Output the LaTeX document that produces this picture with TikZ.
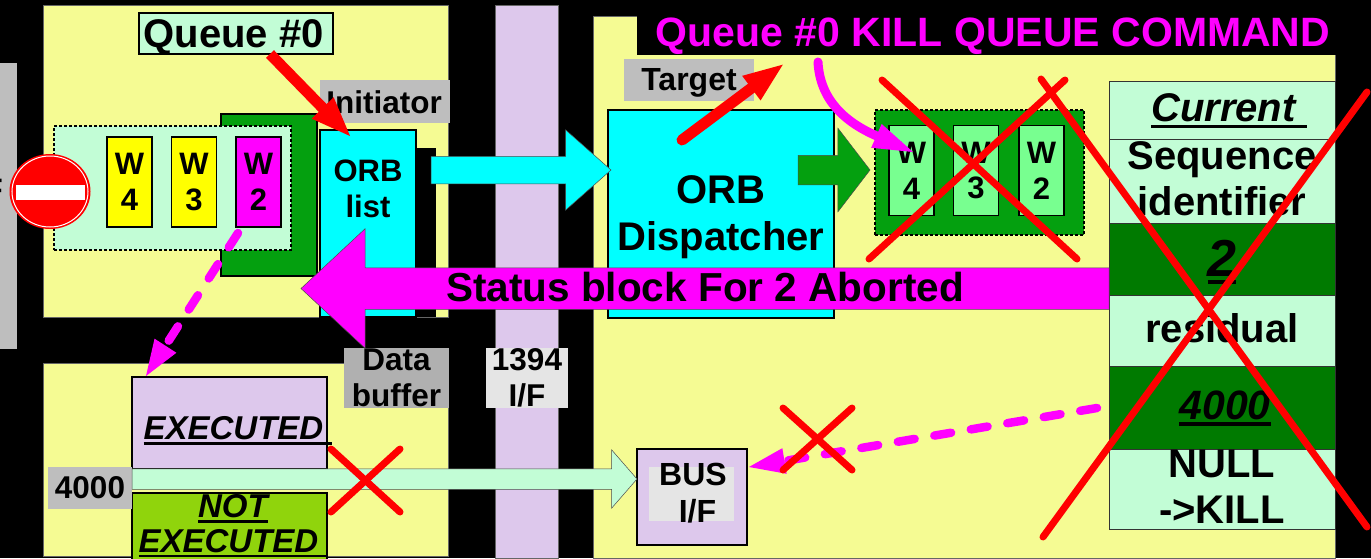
\documentclass[tikz,border=0pt]{standalone}
\usepackage{fontspec}
\setmainfont{Liberation Sans}
\usetikzlibrary{arrows.meta,shapes.arrows,shapes.geometric}
\definecolor{kqyellow}{HTML}{F5FB93}
\definecolor{kqmint}{HTML}{C2FDD6}
\definecolor{kqgrey}{HTML}{BEBEBE}
\definecolor{kqlilac}{HTML}{DDC8EC}
\definecolor{kqgreen}{HTML}{04A00F}
\definecolor{kqdark}{HTML}{007A00}
\definecolor{kqlime}{HTML}{78FF90}
\definecolor{kqolive}{HTML}{90D40C}
\definecolor{kqpink}{HTML}{FF00FF}
\definecolor{kqcyan}{HTML}{00FFFF}
\definecolor{kqword}{HTML}{FFFF00}
\newcommand{\thickul}[1]{\setbox0=\hbox{#1}\copy0\llap{\raisebox{-.16em}{\rule{\wd0}{.085em}}}}
\newcommand{\fs}[1]{\fontsize{#1}{1.16\dimexpr #1pt\relax}\selectfont\bfseries}

\begin{document}
\begin{tikzpicture}[
    x=1pt, y=-1pt,
    panel/.style={fill=kqyellow, draw=black!60, line width=0.5pt, inner sep=0pt, outer sep=0pt},
    box/.style={draw=black, line width=1.2pt, inner sep=0pt, outer sep=0pt, align=center},
    tag/.style={fill=kqgrey, inner sep=0pt, outer sep=0pt, align=center},
    word/.style={box, minimum width=45pt, minimum height=90pt, font=\fs{31}},
    row/.style={draw=black!80, line width=0.8pt, fill=kqmint, minimum width=226pt,
                inner sep=0pt, outer sep=0pt},
    rowtext/.style={inner sep=0pt, align=center, font=\fs{40}},
    block/.style={single arrow, draw=black!70, line width=0.5pt, inner xsep=0pt,
                  outer sep=0pt, anchor=tail},
    redline/.style={draw=red, line width=7pt, line cap=round},
    redarrow/.style={draw=red, line width=11pt, -{Triangle[length=42pt,width=27pt]}},
    pinkdash/.style={draw=kqpink, line width=8.5pt, line cap=round, dash pattern=on 17pt off 20pt,
                     -{Triangle[length=36pt,width=26pt,fill=kqpink,line width=0pt]}}
  ]
    \useasboundingbox (0,0) rectangle (1371,558);
    \fill[black] (0,0) rectangle (1371,558);

    % panels
    \node[tag, minimum width=17pt, minimum height=286pt] (strip) at (8.5,206) {};
    \node[inner sep=0pt, anchor=east, font=\fs{31}] (cutoff) at (3,190) {F};
    \node[panel, minimum width=405pt, minimum height=312pt] (initpanel) at (245.5,161) {};
    \node[panel, minimum width=405pt, minimum height=193pt] (bufpanel) at (245.5,459.5) {};
    \node[fill=kqlilac, draw=black!60, line width=0.5pt, inner sep=0pt, minimum width=63pt, minimum height=553pt] (bus) at (526.5,281.5) {};
    \node[panel, minimum width=742pt, minimum height=542pt] (targpanel) at (964,287) {};
    \node[fill=black, inner sep=0pt, minimum width=734pt, minimum height=39pt] (titlebar) at (1004,35.5) {};
    \node[inner sep=0pt, text=kqpink, font=\fs{41}] (title) at (993,36) {Queue \#0 KILL QUEUE COMMAND};

    % initiator side
    \node[box, fill=kqmint, minimum width=194pt, minimum height=41pt] (queue) at (236,33.5) {};
    \node[inner sep=0pt, font=\fs{40}] (queuetext) at (233.5,37) {Queue \#0};
    \node[tag, minimum width=130pt, minimum height=43pt] (initiator) at (385,101.5) {};
    \node[inner sep=0pt, font=\fs{31.5}] (initiatortext) at (384,102.5) {Initiator};
    \node[box, fill=kqgreen, minimum width=96pt, minimum height=162pt] (back) at (269,195) {};
    \node[box, densely dashed, fill=kqmint, minimum width=237pt, minimum height=124pt] (queued) at (172.5,188) {};
    \node[word, fill=kqword] (wfour) at (129.5,182) {W\\4};
    \node[word, fill=kqword] (wthree) at (194,182) {W\\3};
    \node[word, fill=kqpink] (wtwo) at (258.5,182) {W\\2};
    \node[fill=black, inner sep=0pt, minimum width=20pt, minimum height=169pt] (shadow) at (426,232.5) {};
    \node[box, fill=kqcyan, minimum width=96pt, minimum height=187pt] (orblist) at (368,223.5) {};
    \node[inner sep=0pt, font=\fs{31}, align=center] (orbtext) at (368,189) {ORB\\list};
    \node[ellipse, fill=red, inner sep=0pt, minimum width=81pt, minimum height=75pt] (noentry) at (50,191.5) {};
    \node[ellipse, draw=white, line width=1pt, inner sep=0pt, minimum width=76pt, minimum height=71pt] (noentryring) at (50,191.5) {};
    \node[fill=white, inner sep=0pt, minimum width=69pt, minimum height=15pt] (noentrybar) at (50.5,192.5) {};

    % data buffer side
    \node[box, fill=kqlilac, minimum width=195pt, minimum height=92pt] (executed) at (229.5,423) {};
    \node[inner sep=0pt, font=\fs{33}\itshape] (executedtext) at (238,431) {\thickul{EXECUTED\ }};
    \node[box, fill=kqolive, minimum width=195pt, minimum height=70pt] (notexec) at (229.5,528) {};
    \node[inner sep=0pt, font=\fs{33}\itshape, align=center] (notexectext) at (233,526) {\thickul{NOT}\\[-4pt]\thickul{EXECUTED\ }};
    \node[tag, minimum width=84pt, minimum height=42pt, font=\fs{31.5}] (addr) at (90,488) {4000};
    \node[tag, fill=black!31, minimum width=105pt, minimum height=60pt, font=\fs{31.5}] (databuf) at (396.5,378) {Data\\buffer};
    \node[tag, fill=black!10, minimum width=82pt, minimum height=60pt, font=\fs{31.5}] (iface) at (527,378) {1394\\I/F};

    % target side
    \node[tag, minimum width=130pt, minimum height=42pt] (target) at (689,80) {};
    \node[inner sep=0pt, font=\fs{32}] (targettext) at (689,83) {Target};
    \node[box, fill=kqcyan, minimum width=226pt, minimum height=208pt] (dispatcher) at (721,214) {};
    \node[inner sep=0pt, font=\fs{40}, align=center] (disptext) at (721,217) {ORB\\Dispatcher};
    \node[box, densely dashed, fill=kqgreen, minimum width=209pt, minimum height=125pt] (dropped) at (979.5,172.5) {};
    \node[word, fill=kqlime] (dfour) at (911.5,170.5) {W\\4};
    \node[word, fill=kqlime] (dthree) at (976,170.5) {W\\3};
    \node[word, fill=kqlime] (dtwo) at (1041.5,170.5) {W\\2};
    \node[row, minimum height=58pt] (rcurrent) at (1222,110) {};
    \node[rowtext, font=\fs{40}\itshape] (currenttext) at (1229,111) {\thickul{Current\ }};
    \node[row, minimum height=84pt] (rseq) at (1222,181) {};
    \node[rowtext] (seqtext) at (1222,179) {Sequence\\identifier};
    \node[row, fill=kqdark, minimum height=72pt] (rtwo) at (1222,259) {};
    \node[rowtext, font=\fs{52}\itshape] (twotext) at (1222,262) {\thickul{2}};
    \node[row, minimum height=71pt] (rresid) at (1222,330.5) {};
    \node[rowtext] (residtext) at (1222,328.5) {residual};
    \node[row, fill=kqdark, minimum height=83pt] (raddr) at (1222,407.5) {};
    \node[rowtext, font=\fs{41}\itshape] (addrtext) at (1225,408) {\thickul{4000}};
    \node[row, minimum height=80pt] (rnull) at (1222,489) {};
    \node[rowtext] (nulltext) at (1222,487) {NULL\\->KILL};
    \node[box, fill=kqlilac, minimum width=110pt, minimum height=96pt] (busif) at (692,497) {};
    \node[fill=black!10, inner sep=0pt, minimum width=85pt, minimum height=54pt] (busifback) at (691.5,494) {};
    \node[inner sep=0pt, font=\fs{32}, align=center] (busiftext) at (693,493) {BUS\\\ I/F};

    % block arrows
    \node[block, fill=kqcyan, inner ysep=13.5pt, minimum height=180pt, single arrow head extend=26.5pt, single arrow tip angle=83] (tolink) at (431,170) {};
    \node[block, fill=kqgreen, inner ysep=14.5pt, minimum height=72pt, single arrow head extend=27pt, single arrow tip angle=105] (todrop) at (798,170) {};
    \node[block, fill=kqmint, inner ysep=10pt, minimum height=505pt, single arrow head extend=19pt, single arrow tip angle=98] (tobus) at (132,479) {};
    \node[block, fill=kqpink, shape border rotate=180, inner ysep=20.5pt, minimum height=808pt, single arrow head extend=39pt, single arrow tip angle=86] (status) at (1109,288.5) {};
    \node[inner sep=0pt, font=\fs{40.5}] (statustext) at (705,287.5) {Status block For 2 Aborted};

    % connectors
    \coordinate (cmdtip) at (352,138);
    \coordinate (cmdfrom) at (682,140);
    \coordinate (cmdto) at (785,63);
    \coordinate (killfrom) at (818,62);
    \coordinate (killto) at (913,152);
    \coordinate (qfrom) at (270,54);
    \coordinate (dashfrom) at (238,233);
    \coordinate (dashto) at (146,376);
    \coordinate (addrfrom) at (1097,408);
    \coordinate (addrto) at (749,467);
    \draw[redarrow] (qfrom) -- (cmdtip);
    \draw[redarrow, line cap=round] (cmdfrom) -- (cmdto);
    \draw[draw=kqpink, line width=9pt, line cap=round, -{Triangle[length=40pt,width=26pt,fill=kqpink,line width=0pt]}] (killfrom) .. controls (820,100) and (845,122) .. (killto);
    \draw[pinkdash] (dashfrom) -- (dashto);
    \draw[pinkdash] (addrfrom) -- (addrto);

    % crosses
    \draw[redline] (882,80) -- (1077,259);
    \draw[redline] (869,259) -- (1065,80);
    \draw[redline] (1041,79) -- (1367,527);
    \draw[redline] (1367,92) -- (1043,537);
    \draw[redline] (331,449) -- (400,512);
    \draw[redline] (331,512) -- (400,449);
    \draw[redline] (783,408) -- (852,470);
    \draw[redline] (783,470) -- (852,408);
  \end{tikzpicture}
\end{document}
